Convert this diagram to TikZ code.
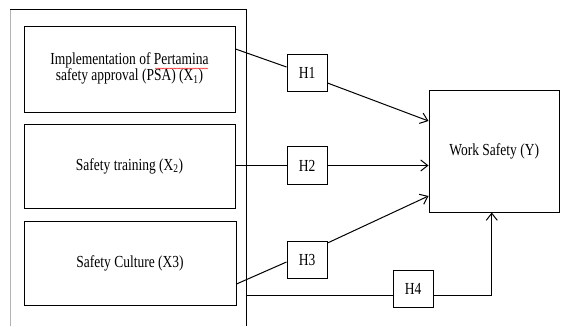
\documentclass[tikz,border=0pt]{standalone}
\usepackage{fontspec}
\setmainfont{Liberation Serif}
\usetikzlibrary{arrows.meta,decorations.pathmorphing}
\newcommand{\vs}[1]{\scalebox{1}[1.25]{#1}}
\tikzset{
  box/.style={draw, line width=1pt, inner sep=0pt, align=center, font=\fontsize{13.5}{15.5}\selectfont},
  hbox/.style={box, minimum width=40pt, minimum height=37.5pt},
  conn/.style={line width=1pt},
  arr/.style={conn, -{Straight Barb[length=7pt,width=11pt,line width=1pt]}}
}
\begin{document}
\begin{tikzpicture}[x=1pt,y=-1pt]
\useasboundingbox (0,0) rectangle (561,326);
% outer frame
\draw[line width=1pt, gray!60] (10,326) -- (10,10);
\draw[line width=1pt] (10,10) -- (246,10) -- (246,326);
% left boxes
\node[box, minimum width=211pt, minimum height=85pt] (b1) at (129.5,69.5) {};
\node[inner sep=0pt, font=\fontsize{13.5}{10.4}\selectfont] (t1) at (129.5,68.5)
  {\vs{\fontsize{13.5}{10.4}\selectfont\begin{tabular}{@{}c@{}}Implementation of Pertamina\\ safety approval (PSA) (X\textsubscript{1})\end{tabular}}};
\node[box, minimum width=211pt, minimum height=84pt] (b2) at (129.5,166) {\vs{Safety training (X\textsubscript{2})}};
\node[box, minimum width=212pt, minimum height=84pt] (b3) at (130,263) {\vs{Safety Culture (X3)}};
% hypothesis boxes
\node[hbox] (h1) at (307,73) {\vs{H1}};
\node[hbox] (h2) at (307,165.5) {\vs{H2}};
\node[hbox] (h3) at (307,260) {\vs{H3}};
\node[hbox] (h4) at (413,289) {\vs{H4}};
% dependent
\node[box, minimum width=130.5pt, minimum height=121pt] (ws) at (494.25,151.5) {\vs{Work Safety (Y)}};
% spell-check squiggle
\draw[red!80, line width=0.4pt, decorate, decoration={zigzag, amplitude=0.5pt, segment length=1.6pt}] (155,68.5) -- (208,68.5);
% connectors
\draw[conn] ([yshift=20.5pt]b1.east) -- ([yshift=6pt]h1.west);
\draw[arr] ([yshift=-10pt]h1.east) -- ([yshift=30.5pt]ws.west);
\draw[conn] (b2.east |- h2.west) -- (h2.west);
\draw[arr] (h2.east) -- (ws.west |- h2.east);
\draw[conn] ([yshift=-21pt]b3.east) -- ([yshift=-2pt]h3.west);
\draw[arr] ([yshift=17pt]h3.east) -- ([yshift=-44.5pt]ws.west);
\coordinate (s4) at (247,295.5);
\draw[conn] (s4) -- (s4 -| h4.west);
\draw[arr] (h4.east |- s4) -| ([xshift=-2.5pt]ws.south);
\end{tikzpicture}
\end{document}
